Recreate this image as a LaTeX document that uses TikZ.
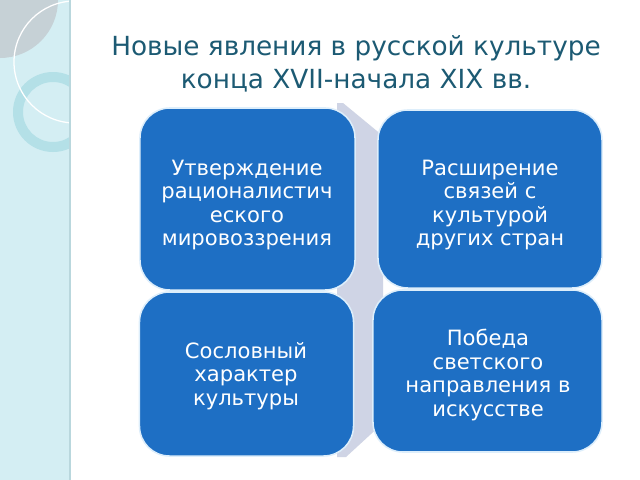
\documentclass[tikz,border=0pt]{standalone}
\usepackage{fontspec}
\setmainfont{DejaVu Sans}
\definecolor{bandc}{HTML}{D4EEF3}
\definecolor{bandline}{HTML}{B9D7DD}
\definecolor{leafc}{HTML}{C6D1D6}
\definecolor{ringc}{HTML}{B4E0E7}
\definecolor{greyband}{HTML}{CFD4E5}
\definecolor{boxc}{HTML}{1E6FC4}
\definecolor{boxline}{HTML}{DDEEFB}
\definecolor{titlec}{HTML}{1C5A73}
\begin{document}
\begin{tikzpicture}[x=0.025cm,y=-0.025cm,
  cell/.style={draw=boxline, line width=1.1pt, fill=boxc, rounded corners=0.75cm, inner sep=0pt},
  celltext/.style={text=white, align=center, inner sep=0pt,
    font=\fontsize{15}{16.8}\selectfont},
  titletext/.style={text=titlec, align=center, inner sep=0pt,
    font=\fontsize{18.7}{23.4}\selectfont}]
\useasboundingbox (0,0) rectangle (640,480);
\fill[white] (0,0) rectangle (640,480);
% left decorative band
\fill[bandc] (0,0) rectangle (70,480);
\begin{scope}
  \clip (0,0) rectangle (70,480);
  \fill[leafc] (0,0) -- (58,0) arc[start angle=0, end angle=90, radius=58] -- cycle;
  \fill[ringc, even odd rule] (53,112) circle[radius=40] (53,112) circle[radius=30];
  \draw[white, line width=0.9pt] (75,62) circle[radius=61];
\end{scope}
\draw[bandline, line width=0.8pt] (70,0) -- (70,480);
% background band behind the grid
\fill[greyband] (337,103) -- (343,103) -- (383,136) -- (383,423) -- (346,457) -- (337,457) -- cycle;
% four cells
\node[cell, minimum width=5.375cm, minimum height=4.55cm] (c1) at (247.5,199) {};
\node[cell, minimum width=5.6cm, minimum height=4.45cm] (c2) at (490,199) {};
\node[cell, minimum width=5.35cm, minimum height=4.1cm] (c3) at (246.5,374) {};
\node[cell, minimum width=5.725cm, minimum height=4.05cm] (c4) at (487.5,371) {};
\node[celltext] (t1) at (247,205) {Утверждение\\рационалистич\\еского\\мировоззрения};
\node[celltext] (t2) at (490,205) {Расширение\\связей с\\культурой\\других стран};
\node[celltext] (t3) at (246,376) {Сословный\\характер\\культуры};
\node[celltext] (t4) at (488,375) {Победа\\светского\\направления в\\искусстве};
% title
\node[titletext, anchor=north] (title) at (356,35)
  {Новые явления в русской культуре\\конца XVII-начала XIX вв.};
\end{tikzpicture}
\end{document}
